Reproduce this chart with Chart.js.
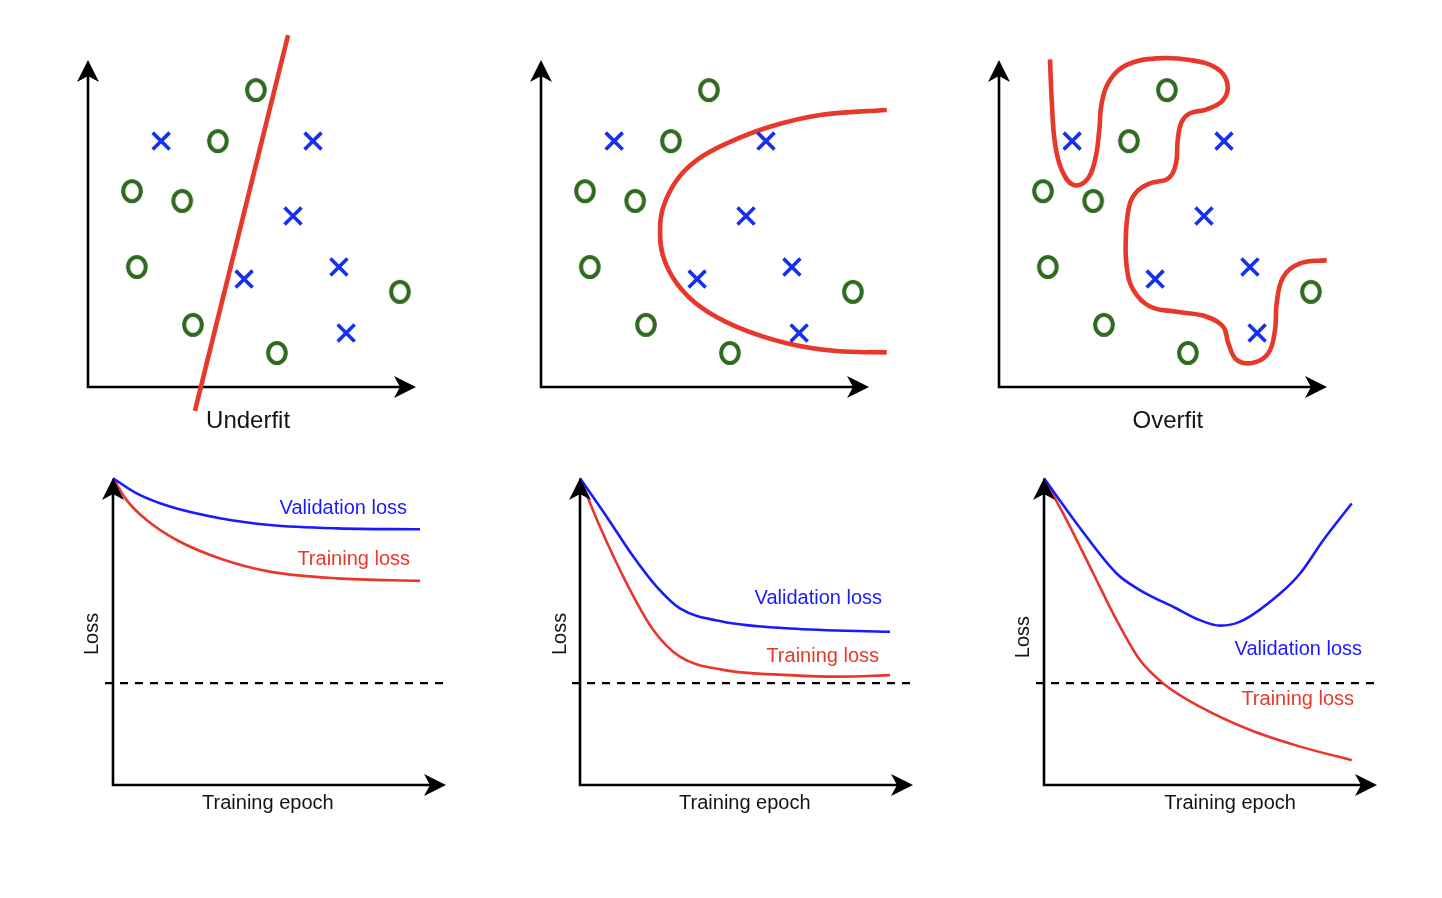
<!DOCTYPE html>
<html>
<head>
<meta charset="utf-8">
<script src="https://cdn.jsdelivr.net/npm/chart.js@4.4.0/dist/chart.umd.min.js"></script>
<style>
  html, body { margin: 0; padding: 0; background: #fff; }
  body { position: relative; width: 1442px; height: 898px; overflow: hidden; }
  canvas { position: absolute; }
</style>
</head>
<body>
<canvas id="underfitScatter"></canvas>
<canvas id="goodScatter"></canvas>
<canvas id="overfitScatter"></canvas>
<canvas id="underfitLoss"></canvas>
<canvas id="goodLoss"></canvas>
<canvas id="overfitLoss"></canvas>
<script>
// ---------- data: top row (same sample in all three panels) ----------
const classOX = [5.12, 3.96, 1.34, 2.87, 1.49, 9.51, 3.20, 5.76];
const classOY = [9.08, 7.52, 5.99, 5.69, 3.67, 2.91, 1.90, 1.04];
const classXX = [2.23, 6.86, 6.25, 4.76, 7.65, 7.87];
const classXY = [7.52, 7.52, 5.23, 3.30, 3.67, 1.65];

// decision boundaries
const underfitBX = [6.10, 3.26];
const underfitBY = [10.76, -0.73];
const goodBX = [10.54, 8.51, 6.98, 5.66, 4.75, 4.14, 3.73, 3.63, 3.73, 4.14, 4.85, 5.97, 7.49, 9.01, 10.54];
const goodBY = [8.47, 8.32, 7.96, 7.45, 6.94, 6.33, 5.51, 4.80, 3.98, 3.17, 2.46, 1.84, 1.34, 1.10, 1.06];
const overfitBX = [1.555, 1.607, 1.707, 1.912, 2.265, 2.674, 2.927, 3.058, 3.131, 3.384, 3.893, 4.808, 5.823, 6.637, 6.960, 6.838, 6.332, 5.823, 5.570, 5.448, 5.396, 5.162, 4.604, 4.247, 3.994, 3.872, 3.893, 4.095, 4.604, 5.418, 6.332, 6.838, 6.991, 7.247, 7.753, 8.210, 8.415, 8.466, 8.668, 9.177, 9.991];
const overfitBY = [10.02, 8.78, 7.45, 6.64, 6.18, 6.33, 6.94, 7.86, 8.68, 9.39, 9.85, 10.05, 10.00, 9.75, 9.29, 8.78, 8.49, 8.37, 8.11, 7.55, 6.84, 6.38, 6.23, 6.02, 5.62, 4.70, 3.68, 2.97, 2.46, 2.30, 2.15, 1.84, 1.34, 0.83, 0.74, 1.03, 1.74, 2.56, 3.37, 3.78, 3.88];

// ---------- data: bottom row (loss vs training epoch) ----------
const underValEpoch = [0, 0.71, 1.71, 3.21, 4.71, 6.72, 9.22];
const underValLoss  = [9.99, 9.50, 9.07, 8.69, 8.47, 8.36, 8.33];
const underTrainEpoch = [0, 0.41, 1.01, 1.91, 3.21, 4.71, 6.72, 9.22];
const underTrainLoss  = [9.99, 9.28, 8.63, 7.98, 7.38, 6.95, 6.73, 6.65];

const goodValEpoch = [0, 0.80, 1.60, 2.30, 3.00, 4.30, 6.31, 9.31];
const goodValLoss  = [9.99, 8.74, 7.44, 6.46, 5.75, 5.32, 5.10, 4.99];
const goodTrainEpoch = [0, 0.60, 1.40, 2.20, 3.00, 4.30, 6.31, 7.81, 9.31];
const goodTrainLoss  = [9.99, 8.41, 6.57, 5.05, 4.18, 3.75, 3.58, 3.53, 3.58];

const overValEpoch = [0, 0.98, 2.18, 2.88, 3.98, 4.68, 5.29, 5.89, 7.09, 7.69, 8.39, 9.24];
const overValLoss  = [9.99, 8.52, 6.89, 6.35, 5.75, 5.37, 5.19, 5.32, 6.24, 6.89, 7.98, 9.17];
const overTrainEpoch = [0, 0.68, 1.48, 2.18, 2.88, 3.58, 4.68, 6.19, 7.69, 9.24];
const overTrainLoss  = [9.99, 8.63, 6.89, 5.37, 4.07, 3.31, 2.55, 1.79, 1.25, 0.81];

const lossThreshold = 3.32;
const thresholdSpan = [-0.24, 10];

// ---------- styles ----------
const RED = '#e8382b';
const BLUE = '#1a1aff';
const XBLUE = '#1630f2';
const GREEN = '#2f6b1f';
const INK = '#141414';
const FONT = "'Liberation Sans', Arial, Helvetica, sans-serif";

function pts(xs, ys) { return xs.map((x, i) => ({ x: x, y: ys[i] })); }

const oMark = (function () {
  const c = document.createElement('canvas');
  c.width = 28; c.height = 30;
  const g = c.getContext('2d');
  g.strokeStyle = GREEN;
  g.lineWidth = 4;
  g.beginPath();
  g.ellipse(14, 15, 8.8, 10, 0, 0, Math.PI * 2);
  g.stroke();
  return c;
})();

const figurePlugin = {
  id: 'figure',
  beforeDatasetsDraw(chart) {
    const { ctx, scales: { x, y } } = chart;
    const x0 = x.getPixelForValue(0), y0 = y.getPixelForValue(0);
    const xTip = x.getPixelForValue(x.max), yTip = y.getPixelForValue(y.max);
    ctx.save();
    ctx.strokeStyle = '#000';
    ctx.lineWidth = 2.6;
    ctx.lineCap = 'square';
    ctx.beginPath();
    ctx.moveTo(x0, y0); ctx.lineTo(x0, yTip + 14);
    ctx.moveTo(x0, y0); ctx.lineTo(xTip - 14, y0);
    ctx.stroke();
    ctx.restore();
  },
  afterDatasetsDraw(chart, args, opts) {
    const { ctx, scales: { x, y } } = chart;
    const x0 = x.getPixelForValue(0), y0 = y.getPixelForValue(0);
    const xTip = x.getPixelForValue(x.max), yTip = y.getPixelForValue(y.max);
    const L = 22, W = 11, N = 16;
    ctx.save();
    ctx.fillStyle = '#000';
    ctx.beginPath();
    ctx.moveTo(x0, yTip); ctx.lineTo(x0 - W, yTip + L); ctx.lineTo(x0, yTip + N); ctx.lineTo(x0 + W, yTip + L);
    ctx.closePath(); ctx.fill();
    ctx.beginPath();
    ctx.moveTo(xTip, y0); ctx.lineTo(xTip - L, y0 - W); ctx.lineTo(xTip - N, y0); ctx.lineTo(xTip - L, y0 + W);
    ctx.closePath(); ctx.fill();
    (opts.labels || []).forEach(function (lb) {
      ctx.save();
      ctx.translate(x.getPixelForValue(lb.x), y.getPixelForValue(lb.y));
      if (lb.rotate) ctx.rotate(lb.rotate);
      ctx.fillStyle = lb.color || INK;
      ctx.font = (lb.size || 20) + 'px ' + FONT;
      ctx.textAlign = lb.align || 'center';
      ctx.textBaseline = 'middle';
      ctx.fillText(lb.text, 0, 0);
      ctx.restore();
    });
    ctx.restore();
  }
};

function place(id, left, top, width, height) {
  const c = document.getElementById(id);
  c.width = width; c.height = height;
  c.style.left = left + 'px'; c.style.top = top + 'px';
  c.style.width = width + 'px'; c.style.height = height + 'px';
  return c;
}

const baseScales = {
  x: { type: 'linear', min: 0, max: 10, display: false },
  y: { type: 'linear', min: 0, max: 10, display: false }
};

function scatterPanel(id, originX, bx, by, tension, labels) {
  const c = place(id, originX - 60, 20, 433, 430);
  new Chart(c, {
    type: 'scatter',
    data: {
      datasets: [
        { label: 'O', data: pts(classOX, classOY), pointStyle: oMark, pointRadius: 10, clip: false, order: 1 },
        { label: 'X', data: pts(classXX, classXY), pointStyle: 'crossRot', pointRadius: 12,
          borderColor: XBLUE, backgroundColor: XBLUE, pointBorderWidth: 3.6, clip: false, order: 2 },
        { label: 'boundary', data: pts(bx, by), showLine: true, pointRadius: 0, borderColor: RED,
          borderWidth: 4.6, tension: tension, fill: false, clip: false, order: 3 }
      ]
    },
    options: {
      responsive: false, animation: false,
      layout: { padding: { left: 60, top: 40, right: 45, bottom: 63 } },
      scales: baseScales,
      plugins: { legend: { display: false }, tooltip: { enabled: false }, figure: { labels: labels } },
      events: []
    },
    plugins: [figurePlugin]
  });
}

function lossPanel(id, originX, vx, vy, tx, ty, labels) {
  const c = place(id, originX - 50, 460, 398, 370);
  new Chart(c, {
    type: 'scatter',
    data: {
      datasets: [
        { label: 'Validation loss', data: pts(vx, vy), showLine: true, pointRadius: 0, borderColor: BLUE,
          borderWidth: 2.6, cubicInterpolationMode: 'monotone', fill: false, clip: false, order: 1 },
        { label: 'Training loss', data: pts(tx, ty), showLine: true, pointRadius: 0, borderColor: RED,
          borderWidth: 2.6, cubicInterpolationMode: 'monotone', fill: false, clip: false, order: 2 },
        { label: 'target', data: pts(thresholdSpan, [lossThreshold, lossThreshold]), showLine: true, pointRadius: 0,
          borderColor: '#000', borderWidth: 2.4, borderDash: [8, 7], fill: false, clip: false, order: 3 }
      ]
    },
    options: {
      responsive: false, animation: false,
      layout: { padding: { left: 50, top: 18, right: 15, bottom: 45 } },
      scales: baseScales,
      plugins: { legend: { display: false }, tooltip: { enabled: false }, figure: { labels: labels } },
      events: []
    },
    plugins: [figurePlugin]
  });
}

scatterPanel('underfitScatter', 88, underfitBX, underfitBY, 0,
  [{ text: 'Underfit', x: 4.88, y: -1.04, size: 24 }]);
scatterPanel('goodScatter', 541, goodBX, goodBY, 0.4, []);
scatterPanel('overfitScatter', 999, overfitBX, overfitBY, 0.4,
  [{ text: 'Overfit', x: 5.15, y: -1.04, size: 24 }]);

const ROT = -Math.PI / 2;
lossPanel('underfitLoss', 113, underValEpoch, underValLoss, underTrainEpoch, underTrainLoss, [
  { text: 'Validation loss', x: 8.83, y: 9.02, color: BLUE, align: 'right' },
  { text: 'Training loss', x: 8.92, y: 7.36, color: RED, align: 'right' },
  { text: 'Loss', x: -0.63, y: 4.92, rotate: ROT },
  { text: 'Training epoch', x: 4.65, y: -0.59 }
]);
lossPanel('goodLoss', 580, goodValEpoch, goodValLoss, goodTrainEpoch, goodTrainLoss, [
  { text: 'Validation loss', x: 9.07, y: 6.09, color: BLUE, align: 'right' },
  { text: 'Training loss', x: 8.98, y: 4.17, color: RED, align: 'right' },
  { text: 'Loss', x: -0.60, y: 4.92, rotate: ROT },
  { text: 'Training epoch', x: 4.95, y: -0.59 }
]);
lossPanel('overfitLoss', 1044, overValEpoch, overValLoss, overTrainEpoch, overTrainLoss, [
  { text: 'Validation loss', x: 9.55, y: 4.43, color: BLUE, align: 'right' },
  { text: 'Training loss', x: 9.31, y: 2.77, color: RED, align: 'right' },
  { text: 'Loss', x: -0.63, y: 4.82, rotate: ROT },
  { text: 'Training epoch', x: 5.59, y: -0.59 }
]);
</script>
</body>
</html>
